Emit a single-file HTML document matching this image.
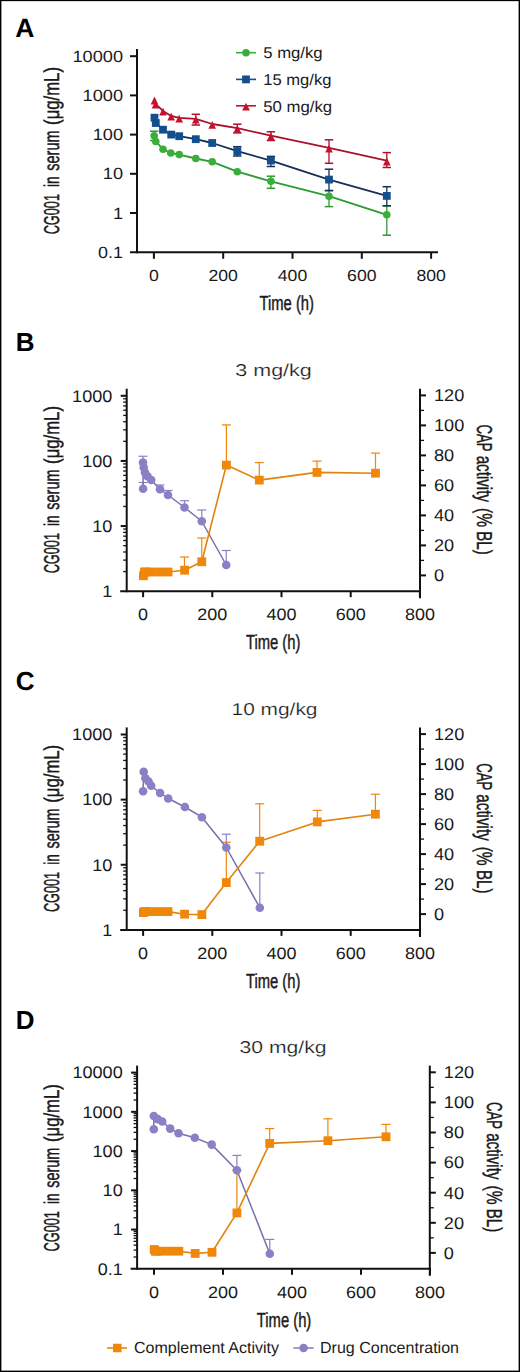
<!DOCTYPE html>
<html><head><meta charset="utf-8"><style>
html,body{margin:0;padding:0;background:#fff;width:520px;height:1372px;overflow:hidden;}
svg{display:block;}
text{font-family:"Liberation Sans", sans-serif;text-rendering:geometricPrecision;}
</style></head><body>
<svg width="520" height="1372" viewBox="0 0 520 1372">
<rect width="520" height="1372" fill="#fff"/>
<rect x="0" y="0" width="520" height="1.15" fill="#000"/><rect x="0" y="0" width="1.4" height="1372" fill="#000"/><rect x="518.6" y="0" width="1.4" height="1372" fill="#000"/><rect x="0" y="1370.6" width="520" height="1.4" fill="#000"/>
<text x="15.3" y="37.0" font-size="26.5" font-weight="bold" text-anchor="start" fill="#000">A</text>
<line x1="137.00" y1="49.00" x2="137.00" y2="253.30" stroke="#111111" stroke-width="2"/>
<line x1="130.00" y1="252.30" x2="438.00" y2="252.30" stroke="#111111" stroke-width="2"/>
<line x1="130.00" y1="56.20" x2="137.00" y2="56.20" stroke="#111111" stroke-width="2"/>
<text x="123" y="61.7" font-size="16.2" font-weight="normal" text-anchor="end" fill="#1a1a1a" textLength="50.5" lengthAdjust="spacingAndGlyphs">10000</text>
<line x1="130.00" y1="95.40" x2="137.00" y2="95.40" stroke="#111111" stroke-width="2"/>
<text x="123" y="100.9" font-size="16.2" font-weight="normal" text-anchor="end" fill="#1a1a1a" textLength="40.4" lengthAdjust="spacingAndGlyphs">1000</text>
<line x1="130.00" y1="134.60" x2="137.00" y2="134.60" stroke="#111111" stroke-width="2"/>
<text x="123" y="140.10000000000002" font-size="16.2" font-weight="normal" text-anchor="end" fill="#1a1a1a" textLength="30.299999999999997" lengthAdjust="spacingAndGlyphs">100</text>
<line x1="130.00" y1="173.80" x2="137.00" y2="173.80" stroke="#111111" stroke-width="2"/>
<text x="123" y="179.3" font-size="16.2" font-weight="normal" text-anchor="end" fill="#1a1a1a" textLength="20.2" lengthAdjust="spacingAndGlyphs">10</text>
<line x1="130.00" y1="213.00" x2="137.00" y2="213.00" stroke="#111111" stroke-width="2"/>
<text x="123" y="218.5" font-size="16.2" font-weight="normal" text-anchor="end" fill="#1a1a1a" textLength="10.1" lengthAdjust="spacingAndGlyphs">1</text>
<text x="123" y="257.7" font-size="16.2" font-weight="normal" text-anchor="end" fill="#1a1a1a" textLength="25" lengthAdjust="spacingAndGlyphs">0.1</text>
<line x1="153.90" y1="252.30" x2="153.90" y2="258.80" stroke="#111111" stroke-width="2"/>
<text x="153.9" y="281" font-size="16" font-weight="normal" text-anchor="middle" fill="#1a1a1a" textLength="9.8" lengthAdjust="spacingAndGlyphs">0</text>
<line x1="223.20" y1="252.30" x2="223.20" y2="258.80" stroke="#111111" stroke-width="2"/>
<text x="223.2" y="281" font-size="16" font-weight="normal" text-anchor="middle" fill="#1a1a1a" textLength="29.400000000000002" lengthAdjust="spacingAndGlyphs">200</text>
<line x1="292.50" y1="252.30" x2="292.50" y2="258.80" stroke="#111111" stroke-width="2"/>
<text x="292.5" y="281" font-size="16" font-weight="normal" text-anchor="middle" fill="#1a1a1a" textLength="29.400000000000002" lengthAdjust="spacingAndGlyphs">400</text>
<line x1="361.80" y1="252.30" x2="361.80" y2="258.80" stroke="#111111" stroke-width="2"/>
<text x="361.79999999999995" y="281" font-size="16" font-weight="normal" text-anchor="middle" fill="#1a1a1a" textLength="29.400000000000002" lengthAdjust="spacingAndGlyphs">600</text>
<line x1="431.10" y1="252.30" x2="431.10" y2="258.80" stroke="#111111" stroke-width="2"/>
<text x="431.1" y="281" font-size="16" font-weight="normal" text-anchor="middle" fill="#1a1a1a" textLength="29.400000000000002" lengthAdjust="spacingAndGlyphs">800</text>
<text x="259.5" y="309.6" font-size="20.5" font-weight="normal" text-anchor="start" fill="#1a1a1a" textLength="54.5" lengthAdjust="spacingAndGlyphs" stroke="#1a1a1a" stroke-width="0.45">Time (h)</text>
<text transform="translate(59.00,234.32) rotate(-90)" x="0" y="0" font-size="21.5" fill="#1a1a1a" stroke="#1a1a1a" stroke-width="0.45" textLength="40.32" lengthAdjust="spacingAndGlyphs">CG001</text>
<text transform="translate(59.00,186.93) rotate(-90)" x="0" y="0" font-size="21.5" fill="#1a1a1a" stroke="#1a1a1a" stroke-width="0.45" textLength="10.65" lengthAdjust="spacingAndGlyphs">in</text>
<text transform="translate(59.00,170.63) rotate(-90)" x="0" y="0" font-size="21.5" fill="#1a1a1a" stroke="#1a1a1a" stroke-width="0.45" textLength="40.06" lengthAdjust="spacingAndGlyphs">serum</text>
<text transform="translate(59.00,124.92) rotate(-90)" x="0" y="0" font-size="21.5" fill="#1a1a1a" stroke="#1a1a1a" stroke-width="0.45" textLength="57.88" lengthAdjust="spacingAndGlyphs">(μg/mL)</text>
<line x1="236.00" y1="52.70" x2="256.00" y2="52.70" stroke="#3aae3a" stroke-width="1.6"/>
<circle cx="246.00" cy="52.70" r="3.8" fill="#3aae3a"/>
<text x="263.2" y="57.7" font-size="15.6" font-weight="normal" text-anchor="start" fill="#1a1a1a" textLength="59.5" lengthAdjust="spacingAndGlyphs">5 mg/kg</text>
<line x1="236.00" y1="79.40" x2="256.00" y2="79.40" stroke="#134f8c" stroke-width="1.6"/>
<rect x="242.10" y="75.50" width="7.8" height="7.8" fill="#134f8c"/>
<text x="263.2" y="84.5" font-size="15.6" font-weight="normal" text-anchor="start" fill="#1a1a1a" textLength="68.3" lengthAdjust="spacingAndGlyphs">15 mg/kg</text>
<line x1="236.00" y1="105.80" x2="256.00" y2="105.80" stroke="#c8102e" stroke-width="1.6"/>
<polygon points="246.00,102.70 242.10,110.50 249.90,110.50" fill="#c8102e"/>
<text x="263.2" y="112" font-size="15.6" font-weight="normal" text-anchor="start" fill="#1a1a1a" textLength="69" lengthAdjust="spacingAndGlyphs">50 mg/kg</text>
<line x1="154.20" y1="131.20" x2="154.20" y2="140.50" stroke="#2f9a33" stroke-width="1.3"/>
<line x1="150.00" y1="131.20" x2="158.40" y2="131.20" stroke="#2f9a33" stroke-width="1.5"/>
<line x1="150.00" y1="140.50" x2="158.40" y2="140.50" stroke="#2f9a33" stroke-width="1.5"/>
<line x1="270.90" y1="176.20" x2="270.90" y2="188.30" stroke="#2f9a33" stroke-width="1.3"/>
<line x1="266.70" y1="176.20" x2="275.10" y2="176.20" stroke="#2f9a33" stroke-width="1.5"/>
<line x1="266.70" y1="188.30" x2="275.10" y2="188.30" stroke="#2f9a33" stroke-width="1.5"/>
<line x1="329.00" y1="190.40" x2="329.00" y2="206.60" stroke="#2f9a33" stroke-width="1.3"/>
<line x1="324.80" y1="190.40" x2="333.20" y2="190.40" stroke="#2f9a33" stroke-width="1.5"/>
<line x1="324.80" y1="206.60" x2="333.20" y2="206.60" stroke="#2f9a33" stroke-width="1.5"/>
<line x1="386.80" y1="205.80" x2="386.80" y2="235.20" stroke="#2f9a33" stroke-width="1.3"/>
<line x1="382.60" y1="205.80" x2="391.00" y2="205.80" stroke="#2f9a33" stroke-width="1.5"/>
<line x1="382.60" y1="235.20" x2="391.00" y2="235.20" stroke="#2f9a33" stroke-width="1.5"/>
<polyline points="154.20,135.80 155.80,141.50 163.00,149.20 170.80,153.00 179.20,154.60 195.80,158.50 212.20,161.80 237.30,171.70 270.90,181.30 329.00,196.20 386.80,214.80" fill="none" stroke="#2f9a33" stroke-width="1.8" stroke-linejoin="round"/>
<circle cx="154.20" cy="135.80" r="3.8" fill="#3aae3a"/>
<circle cx="155.80" cy="141.50" r="3.8" fill="#3aae3a"/>
<circle cx="163.00" cy="149.20" r="3.8" fill="#3aae3a"/>
<circle cx="170.80" cy="153.00" r="3.8" fill="#3aae3a"/>
<circle cx="179.20" cy="154.60" r="3.8" fill="#3aae3a"/>
<circle cx="195.80" cy="158.50" r="3.8" fill="#3aae3a"/>
<circle cx="212.20" cy="161.80" r="3.8" fill="#3aae3a"/>
<circle cx="237.30" cy="171.70" r="3.8" fill="#3aae3a"/>
<circle cx="270.90" cy="181.30" r="3.8" fill="#3aae3a"/>
<circle cx="329.00" cy="196.20" r="3.8" fill="#3aae3a"/>
<circle cx="386.80" cy="214.80" r="3.8" fill="#3aae3a"/>
<line x1="237.30" y1="146.70" x2="237.30" y2="156.00" stroke="#12305a" stroke-width="1.3"/>
<line x1="233.10" y1="146.70" x2="241.50" y2="146.70" stroke="#12305a" stroke-width="1.5"/>
<line x1="233.10" y1="156.00" x2="241.50" y2="156.00" stroke="#12305a" stroke-width="1.5"/>
<line x1="270.90" y1="156.40" x2="270.90" y2="166.50" stroke="#12305a" stroke-width="1.3"/>
<line x1="266.70" y1="156.40" x2="275.10" y2="156.40" stroke="#12305a" stroke-width="1.5"/>
<line x1="266.70" y1="166.50" x2="275.10" y2="166.50" stroke="#12305a" stroke-width="1.5"/>
<line x1="329.00" y1="169.20" x2="329.00" y2="190.70" stroke="#12305a" stroke-width="1.3"/>
<line x1="324.80" y1="169.20" x2="333.20" y2="169.20" stroke="#12305a" stroke-width="1.5"/>
<line x1="324.80" y1="190.70" x2="333.20" y2="190.70" stroke="#12305a" stroke-width="1.5"/>
<line x1="386.80" y1="186.70" x2="386.80" y2="205.80" stroke="#12305a" stroke-width="1.3"/>
<line x1="382.60" y1="186.70" x2="391.00" y2="186.70" stroke="#12305a" stroke-width="1.5"/>
<line x1="382.60" y1="205.80" x2="391.00" y2="205.80" stroke="#12305a" stroke-width="1.5"/>
<polyline points="154.50,117.70 155.80,123.00 163.00,129.70 171.20,134.60 179.20,136.20 195.80,139.20 212.20,143.00 237.30,151.20 270.90,160.60 329.00,179.60 386.80,195.90" fill="none" stroke="#12305a" stroke-width="1.8" stroke-linejoin="round"/>
<rect x="150.60" y="113.80" width="7.8" height="7.8" fill="#134f8c"/>
<rect x="151.90" y="119.10" width="7.8" height="7.8" fill="#134f8c"/>
<rect x="159.10" y="125.80" width="7.8" height="7.8" fill="#134f8c"/>
<rect x="167.30" y="130.70" width="7.8" height="7.8" fill="#134f8c"/>
<rect x="175.30" y="132.30" width="7.8" height="7.8" fill="#134f8c"/>
<rect x="191.90" y="135.30" width="7.8" height="7.8" fill="#134f8c"/>
<rect x="208.30" y="139.10" width="7.8" height="7.8" fill="#134f8c"/>
<rect x="233.40" y="147.30" width="7.8" height="7.8" fill="#134f8c"/>
<rect x="267.00" y="156.70" width="7.8" height="7.8" fill="#134f8c"/>
<rect x="325.10" y="175.70" width="7.8" height="7.8" fill="#134f8c"/>
<rect x="382.90" y="192.00" width="7.8" height="7.8" fill="#134f8c"/>
<line x1="195.80" y1="114.30" x2="195.80" y2="125.00" stroke="#a8122c" stroke-width="1.3"/>
<line x1="191.60" y1="114.30" x2="200.00" y2="114.30" stroke="#a8122c" stroke-width="1.5"/>
<line x1="191.60" y1="125.00" x2="200.00" y2="125.00" stroke="#a8122c" stroke-width="1.5"/>
<line x1="237.30" y1="124.20" x2="237.30" y2="132.90" stroke="#a8122c" stroke-width="1.3"/>
<line x1="233.10" y1="124.20" x2="241.50" y2="124.20" stroke="#a8122c" stroke-width="1.5"/>
<line x1="233.10" y1="132.90" x2="241.50" y2="132.90" stroke="#a8122c" stroke-width="1.5"/>
<line x1="270.90" y1="131.80" x2="270.90" y2="140.50" stroke="#a8122c" stroke-width="1.3"/>
<line x1="266.70" y1="131.80" x2="275.10" y2="131.80" stroke="#a8122c" stroke-width="1.5"/>
<line x1="266.70" y1="140.50" x2="275.10" y2="140.50" stroke="#a8122c" stroke-width="1.5"/>
<line x1="329.00" y1="139.80" x2="329.00" y2="163.30" stroke="#a8122c" stroke-width="1.3"/>
<line x1="324.80" y1="139.80" x2="333.20" y2="139.80" stroke="#a8122c" stroke-width="1.5"/>
<line x1="324.80" y1="163.30" x2="333.20" y2="163.30" stroke="#a8122c" stroke-width="1.5"/>
<line x1="386.80" y1="152.60" x2="386.80" y2="167.50" stroke="#a8122c" stroke-width="1.3"/>
<line x1="382.60" y1="152.60" x2="391.00" y2="152.60" stroke="#a8122c" stroke-width="1.5"/>
<line x1="382.60" y1="167.50" x2="391.00" y2="167.50" stroke="#a8122c" stroke-width="1.5"/>
<polyline points="154.50,99.70 155.50,103.80 163.00,110.90 171.20,115.90 179.20,117.90 195.80,118.90 212.20,124.00 237.30,128.10 270.90,135.70 329.00,147.90 386.80,160.70" fill="none" stroke="#a8122c" stroke-width="1.8" stroke-linejoin="round"/>
<polygon points="154.50,96.60 150.70,104.40 158.30,104.40" fill="#c8102e"/>
<polygon points="155.50,100.70 151.70,108.50 159.30,108.50" fill="#c8102e"/>
<polygon points="163.00,107.80 159.20,115.60 166.80,115.60" fill="#c8102e"/>
<polygon points="171.20,112.80 167.40,120.60 175.00,120.60" fill="#c8102e"/>
<polygon points="179.20,114.80 175.40,122.60 183.00,122.60" fill="#c8102e"/>
<polygon points="195.80,115.80 192.00,123.60 199.60,123.60" fill="#c8102e"/>
<polygon points="212.20,120.90 208.40,128.70 216.00,128.70" fill="#c8102e"/>
<polygon points="237.30,125.00 233.50,132.80 241.10,132.80" fill="#c8102e"/>
<polygon points="270.90,132.60 267.10,140.40 274.70,140.40" fill="#c8102e"/>
<polygon points="329.00,144.80 325.20,152.60 332.80,152.60" fill="#c8102e"/>
<polygon points="386.80,157.60 383.00,165.40 390.60,165.40" fill="#c8102e"/>
<text x="15.8" y="351.2" font-size="26" font-weight="bold" text-anchor="start" fill="#000">B</text>
<text x="235.3" y="375.9" font-size="17.2" font-weight="normal" text-anchor="start" fill="#1a1a1a" textLength="76.5" lengthAdjust="spacingAndGlyphs" stroke="#fff" stroke-width="0.2">3 mg/kg</text>
<line x1="126.70" y1="388.70" x2="126.70" y2="592.20" stroke="#111111" stroke-width="2"/>
<line x1="120.20" y1="591.20" x2="421.00" y2="591.20" stroke="#111111" stroke-width="2"/>
<line x1="120.70" y1="395.80" x2="126.70" y2="395.80" stroke="#111111" stroke-width="2"/>
<line x1="123.20" y1="441.32" x2="126.70" y2="441.32" stroke="#111111" stroke-width="1.3"/>
<line x1="123.20" y1="429.86" x2="126.70" y2="429.86" stroke="#111111" stroke-width="1.3"/>
<line x1="123.20" y1="421.72" x2="126.70" y2="421.72" stroke="#111111" stroke-width="1.3"/>
<line x1="123.20" y1="415.41" x2="126.70" y2="415.41" stroke="#111111" stroke-width="1.3"/>
<line x1="123.20" y1="410.25" x2="126.70" y2="410.25" stroke="#111111" stroke-width="1.3"/>
<line x1="123.20" y1="405.89" x2="126.70" y2="405.89" stroke="#111111" stroke-width="1.3"/>
<line x1="123.20" y1="402.11" x2="126.70" y2="402.11" stroke="#111111" stroke-width="1.3"/>
<line x1="123.20" y1="398.78" x2="126.70" y2="398.78" stroke="#111111" stroke-width="1.3"/>
<text x="112.3" y="401.6" font-size="16.8" font-weight="normal" text-anchor="end" fill="#1a1a1a" textLength="40.2" lengthAdjust="spacingAndGlyphs">1000</text>
<line x1="120.70" y1="460.93" x2="126.70" y2="460.93" stroke="#111111" stroke-width="2"/>
<line x1="123.20" y1="506.45" x2="126.70" y2="506.45" stroke="#111111" stroke-width="1.3"/>
<line x1="123.20" y1="494.99" x2="126.70" y2="494.99" stroke="#111111" stroke-width="1.3"/>
<line x1="123.20" y1="486.85" x2="126.70" y2="486.85" stroke="#111111" stroke-width="1.3"/>
<line x1="123.20" y1="480.54" x2="126.70" y2="480.54" stroke="#111111" stroke-width="1.3"/>
<line x1="123.20" y1="475.38" x2="126.70" y2="475.38" stroke="#111111" stroke-width="1.3"/>
<line x1="123.20" y1="471.02" x2="126.70" y2="471.02" stroke="#111111" stroke-width="1.3"/>
<line x1="123.20" y1="467.24" x2="126.70" y2="467.24" stroke="#111111" stroke-width="1.3"/>
<line x1="123.20" y1="463.91" x2="126.70" y2="463.91" stroke="#111111" stroke-width="1.3"/>
<text x="112.3" y="466.73" font-size="16.8" font-weight="normal" text-anchor="end" fill="#1a1a1a" textLength="30.150000000000002" lengthAdjust="spacingAndGlyphs">100</text>
<line x1="120.70" y1="526.06" x2="126.70" y2="526.06" stroke="#111111" stroke-width="2"/>
<line x1="123.20" y1="571.58" x2="126.70" y2="571.58" stroke="#111111" stroke-width="1.3"/>
<line x1="123.20" y1="560.12" x2="126.70" y2="560.12" stroke="#111111" stroke-width="1.3"/>
<line x1="123.20" y1="551.98" x2="126.70" y2="551.98" stroke="#111111" stroke-width="1.3"/>
<line x1="123.20" y1="545.67" x2="126.70" y2="545.67" stroke="#111111" stroke-width="1.3"/>
<line x1="123.20" y1="540.51" x2="126.70" y2="540.51" stroke="#111111" stroke-width="1.3"/>
<line x1="123.20" y1="536.15" x2="126.70" y2="536.15" stroke="#111111" stroke-width="1.3"/>
<line x1="123.20" y1="532.37" x2="126.70" y2="532.37" stroke="#111111" stroke-width="1.3"/>
<line x1="123.20" y1="529.04" x2="126.70" y2="529.04" stroke="#111111" stroke-width="1.3"/>
<text x="112.3" y="531.8599999999999" font-size="16.8" font-weight="normal" text-anchor="end" fill="#1a1a1a" textLength="20.1" lengthAdjust="spacingAndGlyphs">10</text>
<text x="112.3" y="596.99" font-size="16.8" font-weight="normal" text-anchor="end" fill="#1a1a1a" textLength="10.05" lengthAdjust="spacingAndGlyphs">1</text>
<line x1="420.00" y1="388.70" x2="420.00" y2="598.20" stroke="#111111" stroke-width="2"/>
<line x1="420.00" y1="575.40" x2="426.00" y2="575.40" stroke="#111111" stroke-width="2"/>
<text x="434.0" y="581.1999999999999" font-size="17.0" font-weight="normal" text-anchor="start" fill="#1a1a1a" textLength="10.1" lengthAdjust="spacingAndGlyphs">0</text>
<line x1="420.00" y1="560.40" x2="424.00" y2="560.40" stroke="#111111" stroke-width="1.3"/>
<line x1="420.00" y1="545.40" x2="426.00" y2="545.40" stroke="#111111" stroke-width="2"/>
<text x="434.0" y="551.1999999999999" font-size="17.0" font-weight="normal" text-anchor="start" fill="#1a1a1a" textLength="20.2" lengthAdjust="spacingAndGlyphs">20</text>
<line x1="420.00" y1="530.40" x2="424.00" y2="530.40" stroke="#111111" stroke-width="1.3"/>
<line x1="420.00" y1="515.40" x2="426.00" y2="515.40" stroke="#111111" stroke-width="2"/>
<text x="434.0" y="521.1999999999999" font-size="17.0" font-weight="normal" text-anchor="start" fill="#1a1a1a" textLength="20.2" lengthAdjust="spacingAndGlyphs">40</text>
<line x1="420.00" y1="500.40" x2="424.00" y2="500.40" stroke="#111111" stroke-width="1.3"/>
<line x1="420.00" y1="485.40" x2="426.00" y2="485.40" stroke="#111111" stroke-width="2"/>
<text x="434.0" y="491.2" font-size="17.0" font-weight="normal" text-anchor="start" fill="#1a1a1a" textLength="20.2" lengthAdjust="spacingAndGlyphs">60</text>
<line x1="420.00" y1="470.40" x2="424.00" y2="470.40" stroke="#111111" stroke-width="1.3"/>
<line x1="420.00" y1="455.40" x2="426.00" y2="455.40" stroke="#111111" stroke-width="2"/>
<text x="434.0" y="461.2" font-size="17.0" font-weight="normal" text-anchor="start" fill="#1a1a1a" textLength="20.2" lengthAdjust="spacingAndGlyphs">80</text>
<line x1="420.00" y1="440.40" x2="424.00" y2="440.40" stroke="#111111" stroke-width="1.3"/>
<line x1="420.00" y1="425.40" x2="426.00" y2="425.40" stroke="#111111" stroke-width="2"/>
<text x="434.0" y="431.2" font-size="17.0" font-weight="normal" text-anchor="start" fill="#1a1a1a" textLength="30.299999999999997" lengthAdjust="spacingAndGlyphs">100</text>
<line x1="420.00" y1="410.40" x2="424.00" y2="410.40" stroke="#111111" stroke-width="1.3"/>
<line x1="420.00" y1="395.40" x2="426.00" y2="395.40" stroke="#111111" stroke-width="2"/>
<text x="434.0" y="401.2" font-size="17.0" font-weight="normal" text-anchor="start" fill="#1a1a1a" textLength="30.299999999999997" lengthAdjust="spacingAndGlyphs">120</text>
<line x1="143.10" y1="591.20" x2="143.10" y2="597.20" stroke="#111111" stroke-width="2"/>
<text x="143.1" y="620.4000000000001" font-size="16.5" font-weight="normal" text-anchor="middle" fill="#1a1a1a" textLength="10.0" lengthAdjust="spacingAndGlyphs">0</text>
<line x1="212.30" y1="591.20" x2="212.30" y2="597.20" stroke="#111111" stroke-width="2"/>
<text x="212.3" y="620.4000000000001" font-size="16.5" font-weight="normal" text-anchor="middle" fill="#1a1a1a" textLength="30.0" lengthAdjust="spacingAndGlyphs">200</text>
<line x1="281.50" y1="591.20" x2="281.50" y2="597.20" stroke="#111111" stroke-width="2"/>
<text x="281.5" y="620.4000000000001" font-size="16.5" font-weight="normal" text-anchor="middle" fill="#1a1a1a" textLength="30.0" lengthAdjust="spacingAndGlyphs">400</text>
<line x1="350.70" y1="591.20" x2="350.70" y2="597.20" stroke="#111111" stroke-width="2"/>
<text x="350.70000000000005" y="620.4000000000001" font-size="16.5" font-weight="normal" text-anchor="middle" fill="#1a1a1a" textLength="30.0" lengthAdjust="spacingAndGlyphs">600</text>
<line x1="419.90" y1="591.20" x2="419.90" y2="597.20" stroke="#111111" stroke-width="2"/>
<text x="419.9" y="620.4000000000001" font-size="16.5" font-weight="normal" text-anchor="middle" fill="#1a1a1a" textLength="30.0" lengthAdjust="spacingAndGlyphs">800</text>
<text x="245.89999999999998" y="649.2" font-size="20.5" font-weight="normal" text-anchor="start" fill="#1a1a1a" textLength="54.5" lengthAdjust="spacingAndGlyphs" stroke="#1a1a1a" stroke-width="0.45">Time (h)</text>
<text transform="translate(59.00,573.32) rotate(-90)" x="0" y="0" font-size="21.5" fill="#1a1a1a" stroke="#1a1a1a" stroke-width="0.45" textLength="40.32" lengthAdjust="spacingAndGlyphs">CG001</text>
<text transform="translate(59.00,525.93) rotate(-90)" x="0" y="0" font-size="21.5" fill="#1a1a1a" stroke="#1a1a1a" stroke-width="0.45" textLength="10.65" lengthAdjust="spacingAndGlyphs">in</text>
<text transform="translate(59.00,509.63) rotate(-90)" x="0" y="0" font-size="21.5" fill="#1a1a1a" stroke="#1a1a1a" stroke-width="0.45" textLength="40.06" lengthAdjust="spacingAndGlyphs">serum</text>
<text transform="translate(59.00,463.92) rotate(-90)" x="0" y="0" font-size="21.5" fill="#1a1a1a" stroke="#1a1a1a" stroke-width="0.45" textLength="57.88" lengthAdjust="spacingAndGlyphs">(μg/mL)</text>
<text transform="translate(477.00,424.46) rotate(90)" x="0" y="0" font-size="21.5" fill="#1a1a1a" stroke="#1a1a1a" stroke-width="0.45" textLength="26.98" lengthAdjust="spacingAndGlyphs">CAP</text>
<text transform="translate(477.00,455.66) rotate(90)" x="0" y="0" font-size="21.5" fill="#1a1a1a" stroke="#1a1a1a" stroke-width="0.45" textLength="46.36" lengthAdjust="spacingAndGlyphs">activity</text>
<text transform="translate(477.00,507.95) rotate(90)" x="0" y="0" font-size="21.5" fill="#1a1a1a" stroke="#1a1a1a" stroke-width="0.45" textLength="19.07" lengthAdjust="spacingAndGlyphs">(%</text>
<text transform="translate(477.00,531.21) rotate(90)" x="0" y="0" font-size="21.5" fill="#1a1a1a" stroke="#1a1a1a" stroke-width="0.45" textLength="23.53" lengthAdjust="spacingAndGlyphs">BL)</text>
<line x1="184.50" y1="570.00" x2="184.50" y2="557.00" stroke="#f0860a" stroke-width="1.2"/>
<line x1="180.00" y1="557.00" x2="189.00" y2="557.00" stroke="#f0860a" stroke-width="1.2"/>
<line x1="201.75" y1="561.75" x2="201.75" y2="538.00" stroke="#f0860a" stroke-width="1.2"/>
<line x1="197.25" y1="538.00" x2="206.25" y2="538.00" stroke="#f0860a" stroke-width="1.2"/>
<line x1="226.40" y1="465.10" x2="226.40" y2="424.90" stroke="#f0860a" stroke-width="1.2"/>
<line x1="221.90" y1="424.90" x2="230.90" y2="424.90" stroke="#f0860a" stroke-width="1.2"/>
<line x1="259.30" y1="480.10" x2="259.30" y2="462.60" stroke="#f0860a" stroke-width="1.2"/>
<line x1="254.80" y1="462.60" x2="263.80" y2="462.60" stroke="#f0860a" stroke-width="1.2"/>
<line x1="317.00" y1="472.40" x2="317.00" y2="461.10" stroke="#f0860a" stroke-width="1.2"/>
<line x1="312.50" y1="461.10" x2="321.50" y2="461.10" stroke="#f0860a" stroke-width="1.2"/>
<line x1="375.50" y1="473.20" x2="375.50" y2="453.10" stroke="#f0860a" stroke-width="1.2"/>
<line x1="371.00" y1="453.10" x2="380.00" y2="453.10" stroke="#f0860a" stroke-width="1.2"/>
<line x1="143.00" y1="462.50" x2="143.00" y2="456.25" stroke="#8a80c6" stroke-width="1.2"/>
<line x1="138.50" y1="456.25" x2="147.50" y2="456.25" stroke="#8a80c6" stroke-width="1.2"/>
<line x1="143.10" y1="488.75" x2="143.10" y2="482.50" stroke="#8a80c6" stroke-width="1.2"/>
<line x1="138.60" y1="482.50" x2="147.60" y2="482.50" stroke="#8a80c6" stroke-width="1.2"/>
<line x1="160.00" y1="489.25" x2="160.00" y2="485.00" stroke="#8a80c6" stroke-width="1.2"/>
<line x1="155.50" y1="485.00" x2="164.50" y2="485.00" stroke="#8a80c6" stroke-width="1.2"/>
<line x1="168.00" y1="495.00" x2="168.00" y2="490.50" stroke="#8a80c6" stroke-width="1.2"/>
<line x1="163.50" y1="490.50" x2="172.50" y2="490.50" stroke="#8a80c6" stroke-width="1.2"/>
<line x1="184.50" y1="507.50" x2="184.50" y2="500.75" stroke="#8a80c6" stroke-width="1.2"/>
<line x1="180.00" y1="500.75" x2="189.00" y2="500.75" stroke="#8a80c6" stroke-width="1.2"/>
<line x1="201.75" y1="521.25" x2="201.75" y2="510.00" stroke="#8a80c6" stroke-width="1.2"/>
<line x1="197.25" y1="510.00" x2="206.25" y2="510.00" stroke="#8a80c6" stroke-width="1.2"/>
<line x1="226.25" y1="565.00" x2="226.25" y2="550.50" stroke="#8a80c6" stroke-width="1.2"/>
<line x1="221.75" y1="550.50" x2="230.75" y2="550.50" stroke="#8a80c6" stroke-width="1.2"/>
<polyline points="143.10,488.75 143.00,462.50 143.75,467.50 145.00,472.50 147.50,476.25 151.25,480.00 160.00,489.25 168.00,495.00 184.50,507.50 201.75,521.25 226.25,565.00" fill="none" stroke="#7770ad" stroke-width="1.5" stroke-linejoin="round"/>
<polyline points="143.40,575.75 144.49,572.00 145.87,572.00 151.42,572.00 159.73,572.00 168.05,572.00 184.60,570.20 201.75,561.75 226.40,465.10 259.30,480.10 317.00,472.40 375.50,473.20" fill="none" stroke="#e3820c" stroke-width="1.6" stroke-linejoin="round"/>
<rect x="139.00" y="571.35" width="8.8" height="8.8" fill="#f0860a"/>
<rect x="140.09" y="567.60" width="8.8" height="8.8" fill="#f0860a"/>
<rect x="141.47" y="567.60" width="8.8" height="8.8" fill="#f0860a"/>
<rect x="147.02" y="567.60" width="8.8" height="8.8" fill="#f0860a"/>
<rect x="155.33" y="567.60" width="8.8" height="8.8" fill="#f0860a"/>
<rect x="163.65" y="567.60" width="8.8" height="8.8" fill="#f0860a"/>
<rect x="180.20" y="565.80" width="8.8" height="8.8" fill="#f0860a"/>
<rect x="197.35" y="557.35" width="8.8" height="8.8" fill="#f0860a"/>
<rect x="222.00" y="460.70" width="8.8" height="8.8" fill="#f0860a"/>
<rect x="254.90" y="475.70" width="8.8" height="8.8" fill="#f0860a"/>
<rect x="312.60" y="468.00" width="8.8" height="8.8" fill="#f0860a"/>
<rect x="371.10" y="468.80" width="8.8" height="8.8" fill="#f0860a"/>
<circle cx="143.10" cy="488.75" r="4.3" fill="#8a80c6"/>
<circle cx="143.00" cy="462.50" r="4.3" fill="#8a80c6"/>
<circle cx="143.75" cy="467.50" r="4.3" fill="#8a80c6"/>
<circle cx="145.00" cy="472.50" r="4.3" fill="#8a80c6"/>
<circle cx="147.50" cy="476.25" r="4.3" fill="#8a80c6"/>
<circle cx="151.25" cy="480.00" r="4.3" fill="#8a80c6"/>
<circle cx="160.00" cy="489.25" r="4.3" fill="#8a80c6"/>
<circle cx="168.00" cy="495.00" r="4.3" fill="#8a80c6"/>
<circle cx="184.50" cy="507.50" r="4.3" fill="#8a80c6"/>
<circle cx="201.75" cy="521.25" r="4.3" fill="#8a80c6"/>
<circle cx="226.25" cy="565.00" r="4.3" fill="#8a80c6"/>
<text x="15.8" y="689.9" font-size="26" font-weight="bold" text-anchor="start" fill="#000">C</text>
<text x="231.5" y="714.5999999999999" font-size="17.2" font-weight="normal" text-anchor="start" fill="#1a1a1a" textLength="86" lengthAdjust="spacingAndGlyphs" stroke="#fff" stroke-width="0.2">10 mg/kg</text>
<line x1="126.70" y1="727.40" x2="126.70" y2="930.90" stroke="#111111" stroke-width="2"/>
<line x1="120.20" y1="929.90" x2="421.00" y2="929.90" stroke="#111111" stroke-width="2"/>
<line x1="120.70" y1="734.50" x2="126.70" y2="734.50" stroke="#111111" stroke-width="2"/>
<line x1="123.20" y1="780.02" x2="126.70" y2="780.02" stroke="#111111" stroke-width="1.3"/>
<line x1="123.20" y1="768.56" x2="126.70" y2="768.56" stroke="#111111" stroke-width="1.3"/>
<line x1="123.20" y1="760.42" x2="126.70" y2="760.42" stroke="#111111" stroke-width="1.3"/>
<line x1="123.20" y1="754.11" x2="126.70" y2="754.11" stroke="#111111" stroke-width="1.3"/>
<line x1="123.20" y1="748.95" x2="126.70" y2="748.95" stroke="#111111" stroke-width="1.3"/>
<line x1="123.20" y1="744.59" x2="126.70" y2="744.59" stroke="#111111" stroke-width="1.3"/>
<line x1="123.20" y1="740.81" x2="126.70" y2="740.81" stroke="#111111" stroke-width="1.3"/>
<line x1="123.20" y1="737.48" x2="126.70" y2="737.48" stroke="#111111" stroke-width="1.3"/>
<text x="112.3" y="740.3" font-size="16.8" font-weight="normal" text-anchor="end" fill="#1a1a1a" textLength="40.2" lengthAdjust="spacingAndGlyphs">1000</text>
<line x1="120.70" y1="799.63" x2="126.70" y2="799.63" stroke="#111111" stroke-width="2"/>
<line x1="123.20" y1="845.15" x2="126.70" y2="845.15" stroke="#111111" stroke-width="1.3"/>
<line x1="123.20" y1="833.69" x2="126.70" y2="833.69" stroke="#111111" stroke-width="1.3"/>
<line x1="123.20" y1="825.55" x2="126.70" y2="825.55" stroke="#111111" stroke-width="1.3"/>
<line x1="123.20" y1="819.24" x2="126.70" y2="819.24" stroke="#111111" stroke-width="1.3"/>
<line x1="123.20" y1="814.08" x2="126.70" y2="814.08" stroke="#111111" stroke-width="1.3"/>
<line x1="123.20" y1="809.72" x2="126.70" y2="809.72" stroke="#111111" stroke-width="1.3"/>
<line x1="123.20" y1="805.94" x2="126.70" y2="805.94" stroke="#111111" stroke-width="1.3"/>
<line x1="123.20" y1="802.61" x2="126.70" y2="802.61" stroke="#111111" stroke-width="1.3"/>
<text x="112.3" y="805.43" font-size="16.8" font-weight="normal" text-anchor="end" fill="#1a1a1a" textLength="30.150000000000002" lengthAdjust="spacingAndGlyphs">100</text>
<line x1="120.70" y1="864.76" x2="126.70" y2="864.76" stroke="#111111" stroke-width="2"/>
<line x1="123.20" y1="910.28" x2="126.70" y2="910.28" stroke="#111111" stroke-width="1.3"/>
<line x1="123.20" y1="898.82" x2="126.70" y2="898.82" stroke="#111111" stroke-width="1.3"/>
<line x1="123.20" y1="890.68" x2="126.70" y2="890.68" stroke="#111111" stroke-width="1.3"/>
<line x1="123.20" y1="884.37" x2="126.70" y2="884.37" stroke="#111111" stroke-width="1.3"/>
<line x1="123.20" y1="879.21" x2="126.70" y2="879.21" stroke="#111111" stroke-width="1.3"/>
<line x1="123.20" y1="874.85" x2="126.70" y2="874.85" stroke="#111111" stroke-width="1.3"/>
<line x1="123.20" y1="871.07" x2="126.70" y2="871.07" stroke="#111111" stroke-width="1.3"/>
<line x1="123.20" y1="867.74" x2="126.70" y2="867.74" stroke="#111111" stroke-width="1.3"/>
<text x="112.3" y="870.56" font-size="16.8" font-weight="normal" text-anchor="end" fill="#1a1a1a" textLength="20.1" lengthAdjust="spacingAndGlyphs">10</text>
<text x="112.3" y="935.6899999999999" font-size="16.8" font-weight="normal" text-anchor="end" fill="#1a1a1a" textLength="10.05" lengthAdjust="spacingAndGlyphs">1</text>
<line x1="420.00" y1="727.40" x2="420.00" y2="936.90" stroke="#111111" stroke-width="2"/>
<line x1="420.00" y1="914.10" x2="426.00" y2="914.10" stroke="#111111" stroke-width="2"/>
<text x="434.0" y="919.8999999999999" font-size="17.0" font-weight="normal" text-anchor="start" fill="#1a1a1a" textLength="10.1" lengthAdjust="spacingAndGlyphs">0</text>
<line x1="420.00" y1="899.10" x2="424.00" y2="899.10" stroke="#111111" stroke-width="1.3"/>
<line x1="420.00" y1="884.10" x2="426.00" y2="884.10" stroke="#111111" stroke-width="2"/>
<text x="434.0" y="889.8999999999999" font-size="17.0" font-weight="normal" text-anchor="start" fill="#1a1a1a" textLength="20.2" lengthAdjust="spacingAndGlyphs">20</text>
<line x1="420.00" y1="869.10" x2="424.00" y2="869.10" stroke="#111111" stroke-width="1.3"/>
<line x1="420.00" y1="854.10" x2="426.00" y2="854.10" stroke="#111111" stroke-width="2"/>
<text x="434.0" y="859.8999999999999" font-size="17.0" font-weight="normal" text-anchor="start" fill="#1a1a1a" textLength="20.2" lengthAdjust="spacingAndGlyphs">40</text>
<line x1="420.00" y1="839.10" x2="424.00" y2="839.10" stroke="#111111" stroke-width="1.3"/>
<line x1="420.00" y1="824.10" x2="426.00" y2="824.10" stroke="#111111" stroke-width="2"/>
<text x="434.0" y="829.8999999999999" font-size="17.0" font-weight="normal" text-anchor="start" fill="#1a1a1a" textLength="20.2" lengthAdjust="spacingAndGlyphs">60</text>
<line x1="420.00" y1="809.10" x2="424.00" y2="809.10" stroke="#111111" stroke-width="1.3"/>
<line x1="420.00" y1="794.10" x2="426.00" y2="794.10" stroke="#111111" stroke-width="2"/>
<text x="434.0" y="799.8999999999999" font-size="17.0" font-weight="normal" text-anchor="start" fill="#1a1a1a" textLength="20.2" lengthAdjust="spacingAndGlyphs">80</text>
<line x1="420.00" y1="779.10" x2="424.00" y2="779.10" stroke="#111111" stroke-width="1.3"/>
<line x1="420.00" y1="764.10" x2="426.00" y2="764.10" stroke="#111111" stroke-width="2"/>
<text x="434.0" y="769.8999999999999" font-size="17.0" font-weight="normal" text-anchor="start" fill="#1a1a1a" textLength="30.299999999999997" lengthAdjust="spacingAndGlyphs">100</text>
<line x1="420.00" y1="749.10" x2="424.00" y2="749.10" stroke="#111111" stroke-width="1.3"/>
<line x1="420.00" y1="734.10" x2="426.00" y2="734.10" stroke="#111111" stroke-width="2"/>
<text x="434.0" y="739.8999999999999" font-size="17.0" font-weight="normal" text-anchor="start" fill="#1a1a1a" textLength="30.299999999999997" lengthAdjust="spacingAndGlyphs">120</text>
<line x1="143.10" y1="929.90" x2="143.10" y2="935.90" stroke="#111111" stroke-width="2"/>
<text x="143.1" y="959.1000000000001" font-size="16.5" font-weight="normal" text-anchor="middle" fill="#1a1a1a" textLength="10.0" lengthAdjust="spacingAndGlyphs">0</text>
<line x1="212.30" y1="929.90" x2="212.30" y2="935.90" stroke="#111111" stroke-width="2"/>
<text x="212.3" y="959.1000000000001" font-size="16.5" font-weight="normal" text-anchor="middle" fill="#1a1a1a" textLength="30.0" lengthAdjust="spacingAndGlyphs">200</text>
<line x1="281.50" y1="929.90" x2="281.50" y2="935.90" stroke="#111111" stroke-width="2"/>
<text x="281.5" y="959.1000000000001" font-size="16.5" font-weight="normal" text-anchor="middle" fill="#1a1a1a" textLength="30.0" lengthAdjust="spacingAndGlyphs">400</text>
<line x1="350.70" y1="929.90" x2="350.70" y2="935.90" stroke="#111111" stroke-width="2"/>
<text x="350.70000000000005" y="959.1000000000001" font-size="16.5" font-weight="normal" text-anchor="middle" fill="#1a1a1a" textLength="30.0" lengthAdjust="spacingAndGlyphs">600</text>
<line x1="419.90" y1="929.90" x2="419.90" y2="935.90" stroke="#111111" stroke-width="2"/>
<text x="419.9" y="959.1000000000001" font-size="16.5" font-weight="normal" text-anchor="middle" fill="#1a1a1a" textLength="30.0" lengthAdjust="spacingAndGlyphs">800</text>
<text x="245.89999999999998" y="987.9000000000001" font-size="20.5" font-weight="normal" text-anchor="start" fill="#1a1a1a" textLength="54.5" lengthAdjust="spacingAndGlyphs" stroke="#1a1a1a" stroke-width="0.45">Time (h)</text>
<text transform="translate(59.00,912.12) rotate(-90)" x="0" y="0" font-size="21.5" fill="#1a1a1a" stroke="#1a1a1a" stroke-width="0.45" textLength="40.32" lengthAdjust="spacingAndGlyphs">CG001</text>
<text transform="translate(59.00,864.73) rotate(-90)" x="0" y="0" font-size="21.5" fill="#1a1a1a" stroke="#1a1a1a" stroke-width="0.45" textLength="10.65" lengthAdjust="spacingAndGlyphs">in</text>
<text transform="translate(59.00,848.43) rotate(-90)" x="0" y="0" font-size="21.5" fill="#1a1a1a" stroke="#1a1a1a" stroke-width="0.45" textLength="40.06" lengthAdjust="spacingAndGlyphs">serum</text>
<text transform="translate(59.00,802.72) rotate(-90)" x="0" y="0" font-size="21.5" fill="#1a1a1a" stroke="#1a1a1a" stroke-width="0.45" textLength="57.88" lengthAdjust="spacingAndGlyphs">(μg/mL)</text>
<text transform="translate(477.00,763.16) rotate(90)" x="0" y="0" font-size="21.5" fill="#1a1a1a" stroke="#1a1a1a" stroke-width="0.45" textLength="26.98" lengthAdjust="spacingAndGlyphs">CAP</text>
<text transform="translate(477.00,794.36) rotate(90)" x="0" y="0" font-size="21.5" fill="#1a1a1a" stroke="#1a1a1a" stroke-width="0.45" textLength="46.36" lengthAdjust="spacingAndGlyphs">activity</text>
<text transform="translate(477.00,846.65) rotate(90)" x="0" y="0" font-size="21.5" fill="#1a1a1a" stroke="#1a1a1a" stroke-width="0.45" textLength="19.07" lengthAdjust="spacingAndGlyphs">(%</text>
<text transform="translate(477.00,869.91) rotate(90)" x="0" y="0" font-size="21.5" fill="#1a1a1a" stroke="#1a1a1a" stroke-width="0.45" textLength="23.53" lengthAdjust="spacingAndGlyphs">BL)</text>
<line x1="226.30" y1="882.60" x2="226.30" y2="842.30" stroke="#f0860a" stroke-width="1.2"/>
<line x1="221.80" y1="842.30" x2="230.80" y2="842.30" stroke="#f0860a" stroke-width="1.2"/>
<line x1="259.70" y1="841.20" x2="259.70" y2="803.80" stroke="#f0860a" stroke-width="1.2"/>
<line x1="255.20" y1="803.80" x2="264.20" y2="803.80" stroke="#f0860a" stroke-width="1.2"/>
<line x1="317.30" y1="821.90" x2="317.30" y2="810.40" stroke="#f0860a" stroke-width="1.2"/>
<line x1="312.80" y1="810.40" x2="321.80" y2="810.40" stroke="#f0860a" stroke-width="1.2"/>
<line x1="375.40" y1="814.20" x2="375.40" y2="794.20" stroke="#f0860a" stroke-width="1.2"/>
<line x1="370.90" y1="794.20" x2="379.90" y2="794.20" stroke="#f0860a" stroke-width="1.2"/>
<line x1="226.30" y1="847.50" x2="226.30" y2="834.20" stroke="#8a80c6" stroke-width="1.2"/>
<line x1="221.80" y1="834.20" x2="230.80" y2="834.20" stroke="#8a80c6" stroke-width="1.2"/>
<line x1="259.80" y1="907.70" x2="259.80" y2="873.00" stroke="#8a80c6" stroke-width="1.2"/>
<line x1="255.30" y1="873.00" x2="264.30" y2="873.00" stroke="#8a80c6" stroke-width="1.2"/>
<polyline points="143.10,791.30 143.70,771.70 145.40,778.20 148.60,781.50 151.20,785.80 160.10,793.00 168.20,798.50 184.90,807.00 201.90,817.20 226.30,847.50 259.80,907.70" fill="none" stroke="#7770ad" stroke-width="1.5" stroke-linejoin="round"/>
<polyline points="143.40,912.60 144.49,911.60 145.87,911.60 151.42,911.60 159.73,911.60 168.05,911.60 184.60,914.20 201.90,914.60 226.30,882.60 259.70,841.20 317.30,821.90 375.40,814.20" fill="none" stroke="#e3820c" stroke-width="1.6" stroke-linejoin="round"/>
<rect x="139.00" y="908.20" width="8.8" height="8.8" fill="#f0860a"/>
<rect x="140.09" y="907.20" width="8.8" height="8.8" fill="#f0860a"/>
<rect x="141.47" y="907.20" width="8.8" height="8.8" fill="#f0860a"/>
<rect x="147.02" y="907.20" width="8.8" height="8.8" fill="#f0860a"/>
<rect x="155.33" y="907.20" width="8.8" height="8.8" fill="#f0860a"/>
<rect x="163.65" y="907.20" width="8.8" height="8.8" fill="#f0860a"/>
<rect x="180.20" y="909.80" width="8.8" height="8.8" fill="#f0860a"/>
<rect x="197.50" y="910.20" width="8.8" height="8.8" fill="#f0860a"/>
<rect x="221.90" y="878.20" width="8.8" height="8.8" fill="#f0860a"/>
<rect x="255.30" y="836.80" width="8.8" height="8.8" fill="#f0860a"/>
<rect x="312.90" y="817.50" width="8.8" height="8.8" fill="#f0860a"/>
<rect x="371.00" y="809.80" width="8.8" height="8.8" fill="#f0860a"/>
<circle cx="143.10" cy="791.30" r="4.3" fill="#8a80c6"/>
<circle cx="143.70" cy="771.70" r="4.3" fill="#8a80c6"/>
<circle cx="145.40" cy="778.20" r="4.3" fill="#8a80c6"/>
<circle cx="148.60" cy="781.50" r="4.3" fill="#8a80c6"/>
<circle cx="151.20" cy="785.80" r="4.3" fill="#8a80c6"/>
<circle cx="160.10" cy="793.00" r="4.3" fill="#8a80c6"/>
<circle cx="168.20" cy="798.50" r="4.3" fill="#8a80c6"/>
<circle cx="184.90" cy="807.00" r="4.3" fill="#8a80c6"/>
<circle cx="201.90" cy="817.20" r="4.3" fill="#8a80c6"/>
<circle cx="226.30" cy="847.50" r="4.3" fill="#8a80c6"/>
<circle cx="259.80" cy="907.70" r="4.3" fill="#8a80c6"/>
<text x="15.8" y="1028.7" font-size="26" font-weight="bold" text-anchor="start" fill="#000">D</text>
<text x="239.5" y="1053.4" font-size="17.2" font-weight="normal" text-anchor="start" fill="#1a1a1a" textLength="87" lengthAdjust="spacingAndGlyphs" stroke="#fff" stroke-width="0.2">30 mg/kg</text>
<line x1="137.10" y1="1065.60" x2="137.10" y2="1269.80" stroke="#111111" stroke-width="2"/>
<line x1="130.60" y1="1268.80" x2="430.80" y2="1268.80" stroke="#111111" stroke-width="2"/>
<line x1="131.10" y1="1072.60" x2="137.10" y2="1072.60" stroke="#111111" stroke-width="2"/>
<line x1="133.60" y1="1100.03" x2="137.10" y2="1100.03" stroke="#111111" stroke-width="1.3"/>
<line x1="133.60" y1="1093.12" x2="137.10" y2="1093.12" stroke="#111111" stroke-width="1.3"/>
<line x1="133.60" y1="1088.22" x2="137.10" y2="1088.22" stroke="#111111" stroke-width="1.3"/>
<line x1="133.60" y1="1084.41" x2="137.10" y2="1084.41" stroke="#111111" stroke-width="1.3"/>
<line x1="133.60" y1="1081.31" x2="137.10" y2="1081.31" stroke="#111111" stroke-width="1.3"/>
<line x1="133.60" y1="1078.68" x2="137.10" y2="1078.68" stroke="#111111" stroke-width="1.3"/>
<line x1="133.60" y1="1076.40" x2="137.10" y2="1076.40" stroke="#111111" stroke-width="1.3"/>
<line x1="133.60" y1="1074.40" x2="137.10" y2="1074.40" stroke="#111111" stroke-width="1.3"/>
<text x="122.69999999999999" y="1078.3999999999999" font-size="16.8" font-weight="normal" text-anchor="end" fill="#1a1a1a" textLength="50.25" lengthAdjust="spacingAndGlyphs">10000</text>
<line x1="131.10" y1="1111.84" x2="137.10" y2="1111.84" stroke="#111111" stroke-width="2"/>
<line x1="133.60" y1="1139.27" x2="137.10" y2="1139.27" stroke="#111111" stroke-width="1.3"/>
<line x1="133.60" y1="1132.36" x2="137.10" y2="1132.36" stroke="#111111" stroke-width="1.3"/>
<line x1="133.60" y1="1127.46" x2="137.10" y2="1127.46" stroke="#111111" stroke-width="1.3"/>
<line x1="133.60" y1="1123.65" x2="137.10" y2="1123.65" stroke="#111111" stroke-width="1.3"/>
<line x1="133.60" y1="1120.55" x2="137.10" y2="1120.55" stroke="#111111" stroke-width="1.3"/>
<line x1="133.60" y1="1117.92" x2="137.10" y2="1117.92" stroke="#111111" stroke-width="1.3"/>
<line x1="133.60" y1="1115.64" x2="137.10" y2="1115.64" stroke="#111111" stroke-width="1.3"/>
<line x1="133.60" y1="1113.64" x2="137.10" y2="1113.64" stroke="#111111" stroke-width="1.3"/>
<text x="122.69999999999999" y="1117.6399999999999" font-size="16.8" font-weight="normal" text-anchor="end" fill="#1a1a1a" textLength="40.2" lengthAdjust="spacingAndGlyphs">1000</text>
<line x1="131.10" y1="1151.08" x2="137.10" y2="1151.08" stroke="#111111" stroke-width="2"/>
<line x1="133.60" y1="1178.51" x2="137.10" y2="1178.51" stroke="#111111" stroke-width="1.3"/>
<line x1="133.60" y1="1171.60" x2="137.10" y2="1171.60" stroke="#111111" stroke-width="1.3"/>
<line x1="133.60" y1="1166.70" x2="137.10" y2="1166.70" stroke="#111111" stroke-width="1.3"/>
<line x1="133.60" y1="1162.89" x2="137.10" y2="1162.89" stroke="#111111" stroke-width="1.3"/>
<line x1="133.60" y1="1159.79" x2="137.10" y2="1159.79" stroke="#111111" stroke-width="1.3"/>
<line x1="133.60" y1="1157.16" x2="137.10" y2="1157.16" stroke="#111111" stroke-width="1.3"/>
<line x1="133.60" y1="1154.88" x2="137.10" y2="1154.88" stroke="#111111" stroke-width="1.3"/>
<line x1="133.60" y1="1152.88" x2="137.10" y2="1152.88" stroke="#111111" stroke-width="1.3"/>
<text x="122.69999999999999" y="1156.8799999999999" font-size="16.8" font-weight="normal" text-anchor="end" fill="#1a1a1a" textLength="30.150000000000002" lengthAdjust="spacingAndGlyphs">100</text>
<line x1="131.10" y1="1190.32" x2="137.10" y2="1190.32" stroke="#111111" stroke-width="2"/>
<line x1="133.60" y1="1217.75" x2="137.10" y2="1217.75" stroke="#111111" stroke-width="1.3"/>
<line x1="133.60" y1="1210.84" x2="137.10" y2="1210.84" stroke="#111111" stroke-width="1.3"/>
<line x1="133.60" y1="1205.94" x2="137.10" y2="1205.94" stroke="#111111" stroke-width="1.3"/>
<line x1="133.60" y1="1202.13" x2="137.10" y2="1202.13" stroke="#111111" stroke-width="1.3"/>
<line x1="133.60" y1="1199.03" x2="137.10" y2="1199.03" stroke="#111111" stroke-width="1.3"/>
<line x1="133.60" y1="1196.40" x2="137.10" y2="1196.40" stroke="#111111" stroke-width="1.3"/>
<line x1="133.60" y1="1194.12" x2="137.10" y2="1194.12" stroke="#111111" stroke-width="1.3"/>
<line x1="133.60" y1="1192.12" x2="137.10" y2="1192.12" stroke="#111111" stroke-width="1.3"/>
<text x="122.69999999999999" y="1196.12" font-size="16.8" font-weight="normal" text-anchor="end" fill="#1a1a1a" textLength="20.1" lengthAdjust="spacingAndGlyphs">10</text>
<line x1="131.10" y1="1229.56" x2="137.10" y2="1229.56" stroke="#111111" stroke-width="2"/>
<line x1="133.60" y1="1256.99" x2="137.10" y2="1256.99" stroke="#111111" stroke-width="1.3"/>
<line x1="133.60" y1="1250.08" x2="137.10" y2="1250.08" stroke="#111111" stroke-width="1.3"/>
<line x1="133.60" y1="1245.18" x2="137.10" y2="1245.18" stroke="#111111" stroke-width="1.3"/>
<line x1="133.60" y1="1241.37" x2="137.10" y2="1241.37" stroke="#111111" stroke-width="1.3"/>
<line x1="133.60" y1="1238.27" x2="137.10" y2="1238.27" stroke="#111111" stroke-width="1.3"/>
<line x1="133.60" y1="1235.64" x2="137.10" y2="1235.64" stroke="#111111" stroke-width="1.3"/>
<line x1="133.60" y1="1233.36" x2="137.10" y2="1233.36" stroke="#111111" stroke-width="1.3"/>
<line x1="133.60" y1="1231.36" x2="137.10" y2="1231.36" stroke="#111111" stroke-width="1.3"/>
<text x="122.69999999999999" y="1235.36" font-size="16.8" font-weight="normal" text-anchor="end" fill="#1a1a1a" textLength="10.05" lengthAdjust="spacingAndGlyphs">1</text>
<text x="122.69999999999999" y="1274.6" font-size="16.8" font-weight="normal" text-anchor="end" fill="#1a1a1a" textLength="25" lengthAdjust="spacingAndGlyphs">0.1</text>
<line x1="429.80" y1="1065.60" x2="429.80" y2="1275.80" stroke="#111111" stroke-width="2"/>
<line x1="429.80" y1="1252.90" x2="435.80" y2="1252.90" stroke="#111111" stroke-width="2"/>
<text x="443.8" y="1258.7" font-size="17.0" font-weight="normal" text-anchor="start" fill="#1a1a1a" textLength="10.1" lengthAdjust="spacingAndGlyphs">0</text>
<line x1="429.80" y1="1237.85" x2="433.80" y2="1237.85" stroke="#111111" stroke-width="1.3"/>
<line x1="429.80" y1="1222.80" x2="435.80" y2="1222.80" stroke="#111111" stroke-width="2"/>
<text x="443.8" y="1228.6000000000001" font-size="17.0" font-weight="normal" text-anchor="start" fill="#1a1a1a" textLength="20.2" lengthAdjust="spacingAndGlyphs">20</text>
<line x1="429.80" y1="1207.75" x2="433.80" y2="1207.75" stroke="#111111" stroke-width="1.3"/>
<line x1="429.80" y1="1192.70" x2="435.80" y2="1192.70" stroke="#111111" stroke-width="2"/>
<text x="443.8" y="1198.5" font-size="17.0" font-weight="normal" text-anchor="start" fill="#1a1a1a" textLength="20.2" lengthAdjust="spacingAndGlyphs">40</text>
<line x1="429.80" y1="1177.65" x2="433.80" y2="1177.65" stroke="#111111" stroke-width="1.3"/>
<line x1="429.80" y1="1162.60" x2="435.80" y2="1162.60" stroke="#111111" stroke-width="2"/>
<text x="443.8" y="1168.4" font-size="17.0" font-weight="normal" text-anchor="start" fill="#1a1a1a" textLength="20.2" lengthAdjust="spacingAndGlyphs">60</text>
<line x1="429.80" y1="1147.55" x2="433.80" y2="1147.55" stroke="#111111" stroke-width="1.3"/>
<line x1="429.80" y1="1132.50" x2="435.80" y2="1132.50" stroke="#111111" stroke-width="2"/>
<text x="443.8" y="1138.3" font-size="17.0" font-weight="normal" text-anchor="start" fill="#1a1a1a" textLength="20.2" lengthAdjust="spacingAndGlyphs">80</text>
<line x1="429.80" y1="1117.45" x2="433.80" y2="1117.45" stroke="#111111" stroke-width="1.3"/>
<line x1="429.80" y1="1102.40" x2="435.80" y2="1102.40" stroke="#111111" stroke-width="2"/>
<text x="443.8" y="1108.2" font-size="17.0" font-weight="normal" text-anchor="start" fill="#1a1a1a" textLength="30.299999999999997" lengthAdjust="spacingAndGlyphs">100</text>
<line x1="429.80" y1="1087.35" x2="433.80" y2="1087.35" stroke="#111111" stroke-width="1.3"/>
<line x1="429.80" y1="1072.30" x2="435.80" y2="1072.30" stroke="#111111" stroke-width="2"/>
<text x="443.8" y="1078.1000000000001" font-size="17.0" font-weight="normal" text-anchor="start" fill="#1a1a1a" textLength="30.299999999999997" lengthAdjust="spacingAndGlyphs">120</text>
<line x1="154.00" y1="1268.80" x2="154.00" y2="1274.80" stroke="#111111" stroke-width="2"/>
<text x="154.0" y="1298.0" font-size="16.5" font-weight="normal" text-anchor="middle" fill="#1a1a1a" textLength="10.0" lengthAdjust="spacingAndGlyphs">0</text>
<line x1="223.00" y1="1268.80" x2="223.00" y2="1274.80" stroke="#111111" stroke-width="2"/>
<text x="223.0" y="1298.0" font-size="16.5" font-weight="normal" text-anchor="middle" fill="#1a1a1a" textLength="30.0" lengthAdjust="spacingAndGlyphs">200</text>
<line x1="292.00" y1="1268.80" x2="292.00" y2="1274.80" stroke="#111111" stroke-width="2"/>
<text x="292.0" y="1298.0" font-size="16.5" font-weight="normal" text-anchor="middle" fill="#1a1a1a" textLength="30.0" lengthAdjust="spacingAndGlyphs">400</text>
<line x1="361.00" y1="1268.80" x2="361.00" y2="1274.80" stroke="#111111" stroke-width="2"/>
<text x="361.0" y="1298.0" font-size="16.5" font-weight="normal" text-anchor="middle" fill="#1a1a1a" textLength="30.0" lengthAdjust="spacingAndGlyphs">600</text>
<line x1="430.00" y1="1268.80" x2="430.00" y2="1274.80" stroke="#111111" stroke-width="2"/>
<text x="430.0" y="1298.0" font-size="16.5" font-weight="normal" text-anchor="middle" fill="#1a1a1a" textLength="30.0" lengthAdjust="spacingAndGlyphs">800</text>
<text x="256.8" y="1326.8" font-size="20.5" font-weight="normal" text-anchor="start" fill="#1a1a1a" textLength="54.5" lengthAdjust="spacingAndGlyphs" stroke="#1a1a1a" stroke-width="0.45">Time (h)</text>
<text transform="translate(59.00,1251.42) rotate(-90)" x="0" y="0" font-size="21.5" fill="#1a1a1a" stroke="#1a1a1a" stroke-width="0.45" textLength="40.32" lengthAdjust="spacingAndGlyphs">CG001</text>
<text transform="translate(59.00,1204.03) rotate(-90)" x="0" y="0" font-size="21.5" fill="#1a1a1a" stroke="#1a1a1a" stroke-width="0.45" textLength="10.65" lengthAdjust="spacingAndGlyphs">in</text>
<text transform="translate(59.00,1187.73) rotate(-90)" x="0" y="0" font-size="21.5" fill="#1a1a1a" stroke="#1a1a1a" stroke-width="0.45" textLength="40.06" lengthAdjust="spacingAndGlyphs">serum</text>
<text transform="translate(59.00,1142.02) rotate(-90)" x="0" y="0" font-size="21.5" fill="#1a1a1a" stroke="#1a1a1a" stroke-width="0.45" textLength="57.88" lengthAdjust="spacingAndGlyphs">(μg/mL)</text>
<text transform="translate(486.80,1101.96) rotate(90)" x="0" y="0" font-size="21.5" fill="#1a1a1a" stroke="#1a1a1a" stroke-width="0.45" textLength="26.98" lengthAdjust="spacingAndGlyphs">CAP</text>
<text transform="translate(486.80,1133.16) rotate(90)" x="0" y="0" font-size="21.5" fill="#1a1a1a" stroke="#1a1a1a" stroke-width="0.45" textLength="46.36" lengthAdjust="spacingAndGlyphs">activity</text>
<text transform="translate(486.80,1185.45) rotate(90)" x="0" y="0" font-size="21.5" fill="#1a1a1a" stroke="#1a1a1a" stroke-width="0.45" textLength="19.07" lengthAdjust="spacingAndGlyphs">(%</text>
<text transform="translate(486.80,1208.71) rotate(90)" x="0" y="0" font-size="21.5" fill="#1a1a1a" stroke="#1a1a1a" stroke-width="0.45" textLength="23.53" lengthAdjust="spacingAndGlyphs">BL)</text>
<line x1="236.90" y1="1212.90" x2="236.90" y2="1170.00" stroke="#f0860a" stroke-width="1.2"/>
<line x1="232.40" y1="1170.00" x2="241.40" y2="1170.00" stroke="#f0860a" stroke-width="1.2"/>
<line x1="269.70" y1="1143.40" x2="269.70" y2="1128.60" stroke="#f0860a" stroke-width="1.2"/>
<line x1="265.20" y1="1128.60" x2="274.20" y2="1128.60" stroke="#f0860a" stroke-width="1.2"/>
<line x1="327.90" y1="1140.70" x2="327.90" y2="1118.80" stroke="#f0860a" stroke-width="1.2"/>
<line x1="323.40" y1="1118.80" x2="332.40" y2="1118.80" stroke="#f0860a" stroke-width="1.2"/>
<line x1="386.00" y1="1136.80" x2="386.00" y2="1124.40" stroke="#f0860a" stroke-width="1.2"/>
<line x1="381.50" y1="1124.40" x2="390.50" y2="1124.40" stroke="#f0860a" stroke-width="1.2"/>
<line x1="236.90" y1="1170.20" x2="236.90" y2="1155.40" stroke="#8a80c6" stroke-width="1.2"/>
<line x1="232.40" y1="1155.40" x2="241.40" y2="1155.40" stroke="#8a80c6" stroke-width="1.2"/>
<line x1="269.80" y1="1253.80" x2="269.80" y2="1239.40" stroke="#8a80c6" stroke-width="1.2"/>
<line x1="265.30" y1="1239.40" x2="274.30" y2="1239.40" stroke="#8a80c6" stroke-width="1.2"/>
<polyline points="153.80,1129.20 153.80,1116.00 157.80,1119.10 162.20,1121.50 170.20,1128.60 178.50,1133.20 194.80,1137.80 211.70,1144.60 236.90,1170.20 269.80,1253.80" fill="none" stroke="#7770ad" stroke-width="1.5" stroke-linejoin="round"/>
<polyline points="154.20,1249.50 155.38,1251.20 156.76,1251.20 162.28,1251.20 170.56,1251.20 178.84,1251.20 195.20,1253.40 212.00,1252.30 236.90,1212.90 269.70,1143.40 327.90,1140.70 386.00,1136.80" fill="none" stroke="#e3820c" stroke-width="1.6" stroke-linejoin="round"/>
<rect x="149.80" y="1245.10" width="8.8" height="8.8" fill="#f0860a"/>
<rect x="150.98" y="1246.80" width="8.8" height="8.8" fill="#f0860a"/>
<rect x="152.36" y="1246.80" width="8.8" height="8.8" fill="#f0860a"/>
<rect x="157.88" y="1246.80" width="8.8" height="8.8" fill="#f0860a"/>
<rect x="166.16" y="1246.80" width="8.8" height="8.8" fill="#f0860a"/>
<rect x="174.44" y="1246.80" width="8.8" height="8.8" fill="#f0860a"/>
<rect x="190.80" y="1249.00" width="8.8" height="8.8" fill="#f0860a"/>
<rect x="207.60" y="1247.90" width="8.8" height="8.8" fill="#f0860a"/>
<rect x="232.50" y="1208.50" width="8.8" height="8.8" fill="#f0860a"/>
<rect x="265.30" y="1139.00" width="8.8" height="8.8" fill="#f0860a"/>
<rect x="323.50" y="1136.30" width="8.8" height="8.8" fill="#f0860a"/>
<rect x="381.60" y="1132.40" width="8.8" height="8.8" fill="#f0860a"/>
<circle cx="153.80" cy="1129.20" r="4.3" fill="#8a80c6"/>
<circle cx="153.80" cy="1116.00" r="4.3" fill="#8a80c6"/>
<circle cx="157.80" cy="1119.10" r="4.3" fill="#8a80c6"/>
<circle cx="162.20" cy="1121.50" r="4.3" fill="#8a80c6"/>
<circle cx="170.20" cy="1128.60" r="4.3" fill="#8a80c6"/>
<circle cx="178.50" cy="1133.20" r="4.3" fill="#8a80c6"/>
<circle cx="194.80" cy="1137.80" r="4.3" fill="#8a80c6"/>
<circle cx="211.70" cy="1144.60" r="4.3" fill="#8a80c6"/>
<circle cx="236.90" cy="1170.20" r="4.3" fill="#8a80c6"/>
<circle cx="269.80" cy="1253.80" r="4.3" fill="#8a80c6"/>
<line x1="107.00" y1="1348.00" x2="127.00" y2="1348.00" stroke="#f0860a" stroke-width="1.6"/>
<rect x="113.05" y="1343.75" width="8.5" height="8.5" fill="#f0860a"/>
<text x="134" y="1353.2" font-size="16" font-weight="normal" text-anchor="start" fill="#1a1a1a" textLength="145" lengthAdjust="spacingAndGlyphs">Complement Activity</text>
<line x1="293.50" y1="1348.00" x2="313.70" y2="1348.00" stroke="#8a80c6" stroke-width="1.6"/>
<circle cx="303.60" cy="1348.00" r="4.3" fill="#8a80c6"/>
<text x="320" y="1353.0" font-size="16" font-weight="normal" text-anchor="start" fill="#1a1a1a" textLength="139" lengthAdjust="spacingAndGlyphs">Drug Concentration</text>
</svg></body></html>
